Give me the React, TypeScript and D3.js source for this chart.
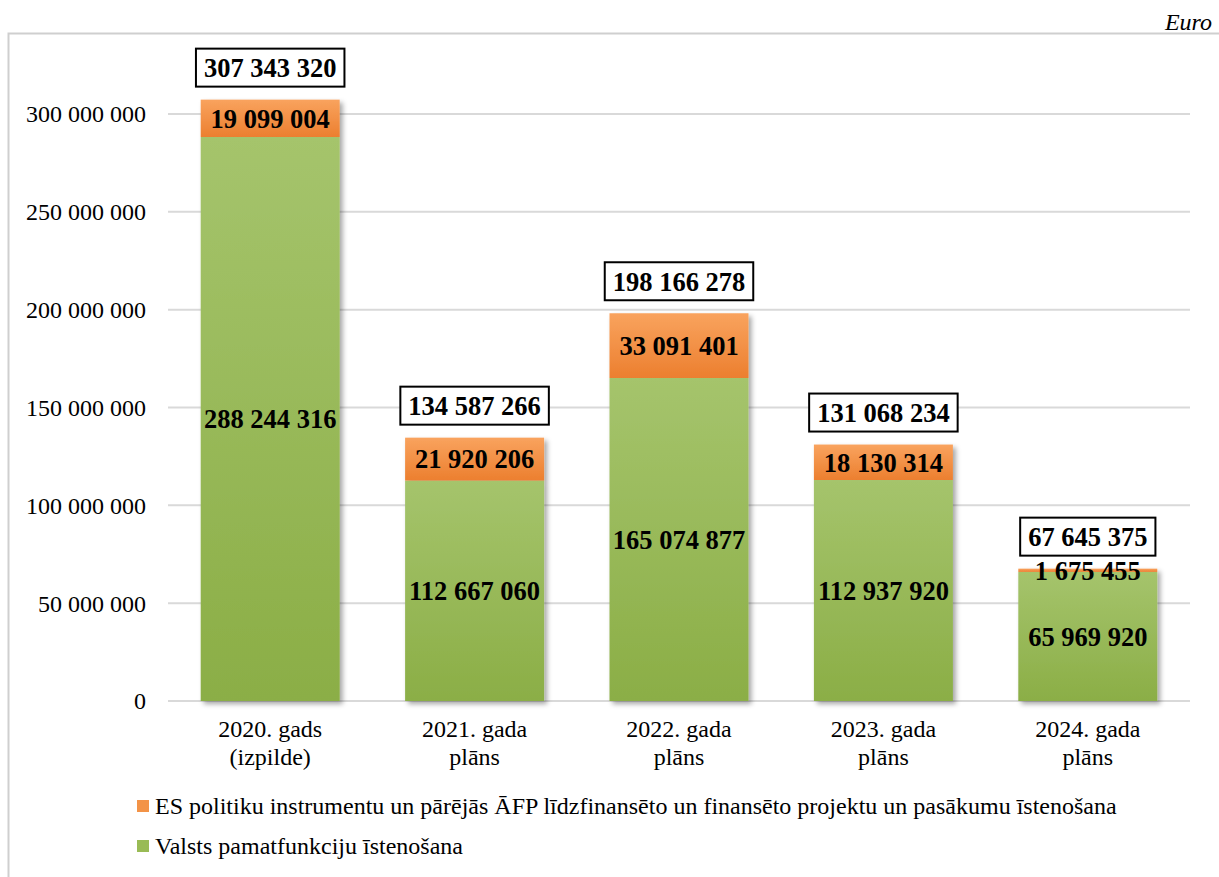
import { useEffect, useRef } from 'react';
import * as d3 from 'd3';

const categories = [['2020. gads', '(izpilde)'], ['2021. gada', 'plāns'], ['2022. gada', 'plāns'], ['2023. gada', 'plāns'], ['2024. gada', 'plāns']];
const baseValues = [288244316, 112667060, 165074877, 112937920, 65969920];
const euValues = [19099004, 21920206, 33091401, 18130314, 1675455];
const totals = [307343320, 134587266, 198166278, 131068234, 67645375];
const yTicks = [0, 50000000, 100000000, 150000000, 200000000, 250000000, 300000000];
const legendLabels = [
  'ES politiku instrumentu un pārējās ĀFP līdzfinansēto un finansēto projektu un pasākumu īstenošana',
  'Valsts pamatfunkciju īstenošana',
];

const fmt = (v: number) => d3.format(',')(v).replace(/,/g, ' ');

export default function App() {
  const svgRef = useRef<SVGSVGElement>(null);

  useEffect(() => {
    const width = 1219;
    const height = 877;
    const svg = d3.select(svgRef.current);
    svg.selectAll('*').remove();
    svg.attr('width', width).attr('height', height);

    const font = '"Liberation Serif", "Times New Roman", serif';
    const left = 168, right = 1190, top = 114, bottom = 701;

    const defs = svg.append('defs');
    const gGreen = defs.append('linearGradient').attr('id', 'gGreen').attr('x1', 0).attr('y1', 0).attr('x2', 0).attr('y2', 1);
    gGreen.append('stop').attr('offset', '0%').attr('stop-color', '#a5c46c');
    gGreen.append('stop').attr('offset', '100%').attr('stop-color', '#8bae46');
    const gOrange = defs.append('linearGradient').attr('id', 'gOrange').attr('x1', 0).attr('y1', 0).attr('x2', 0).attr('y2', 1);
    gOrange.append('stop').attr('offset', '0%').attr('stop-color', '#f9a35e');
    gOrange.append('stop').attr('offset', '100%').attr('stop-color', '#ec7f2f');
    const shadow = defs.append('filter').attr('id', 'shadow').attr('x', '-10%').attr('y', '-10%').attr('width', '130%').attr('height', '130%');
    shadow.append('feDropShadow').attr('dx', 3).attr('dy', 3).attr('stdDeviation', 2.5).attr('flood-color', '#000').attr('flood-opacity', 0.35);

    // frame
    svg.append('rect').attr('x', 8.5).attr('y', 33.5).attr('width', 1300).attr('height', 1000)
      .attr('fill', '#fff').attr('stroke', '#cfcfcf').attr('stroke-width', 2);

    svg.append('text').attr('x', 1212).attr('y', 30).attr('text-anchor', 'end')
      .attr('font-family', font).attr('font-style', 'italic').attr('font-size', 24).text('Euro');

    const x = d3.scaleBand().domain(categories.map((_, i) => String(i))).range([left, right]).paddingInner(0.32).paddingOuter(0.16);
    const y = d3.scaleLinear().domain([0, 300000000]).range([bottom, top]);

    // grid
    svg.append('g').selectAll('line').data(yTicks).join('line')
      .attr('x1', left).attr('x2', right)
      .attr('y1', d => y(d)).attr('y2', d => y(d))
      .attr('stroke', '#d9d9d9').attr('stroke-width', 2);

    svg.append('g').selectAll('text').data(yTicks).join('text')
      .attr('x', 146).attr('y', d => y(d)).attr('dy', '0.35em').attr('text-anchor', 'end')
      .attr('font-family', font).attr('font-size', 24).text(d => fmt(d));

    const bars = svg.append('g');
    categories.forEach((c, i) => {
      const bx = x(String(i))!;
      const bw = x.bandwidth();
      const g = bars.append('g').attr('filter', 'url(#shadow)');
      g.append('rect').attr('x', bx).attr('width', bw)
        .attr('y', y(baseValues[i])).attr('height', y(0) - y(baseValues[i])).attr('fill', 'url(#gGreen)');
      g.append('rect').attr('x', bx).attr('width', bw)
        .attr('y', y(baseValues[i] + euValues[i])).attr('height', y(baseValues[i]) - y(baseValues[i] + euValues[i])).attr('fill', 'url(#gOrange)');
    });

    const labels = svg.append('g').attr('font-family', font).attr('font-weight', 'bold').attr('font-size', 26.5).attr('text-anchor', 'middle');
    categories.forEach((c, i) => {
      const cx = x(String(i))! + x.bandwidth() / 2;
      labels.append('text').attr('x', cx).attr('y', (y(0) + y(baseValues[i])) / 2).attr('dy', '0.35em').text(fmt(baseValues[i]));
      labels.append('text').attr('x', cx).attr('y', (y(baseValues[i]) + y(baseValues[i] + euValues[i])) / 2).attr('dy', '0.35em').text(fmt(euValues[i]));
      const ty = y(totals[i]) - 32;
      const t = labels.append('text').attr('x', cx).attr('y', ty).attr('dy', '0.35em').text(fmt(totals[i]));
      const bb = (t.node() as SVGTextElement).getBBox();
      labels.insert('rect', 'text').attr('x', cx - bb.width / 2 - 8).attr('y', ty - 19).attr('width', bb.width + 16).attr('height', 38)
        .attr('fill', '#fff').attr('stroke', '#000').attr('stroke-width', 2);
    });

    const cats = svg.append('g').attr('font-family', font).attr('font-size', 24).attr('text-anchor', 'middle');
    categories.forEach((c, i) => {
      const cx = x(String(i))! + x.bandwidth() / 2;
      c.forEach((line, j) => {
        cats.append('text').attr('x', cx).attr('y', 737 + j * 28).text(line);
      });
    });

    const legendColors = ['#f39347', '#99bb55'];
    const lg = svg.append('g').attr('font-family', font).attr('font-size', 24);
    legendLabels.forEach((l, i) => {
      const ly = 806 + i * 40;
      lg.append('rect').attr('x', 137).attr('y', ly - 6).attr('width', 12).attr('height', 12).attr('fill', legendColors[i]);
      lg.append('text').attr('x', 155).attr('y', ly).attr('dy', '0.35em').text(l);
    });
  }, []);

  return (
    <div style={{ position: 'absolute', left: 0, top: 0 }}>
      <svg ref={svgRef} style={{ display: 'block' }}></svg>
    </div>
  );
}
